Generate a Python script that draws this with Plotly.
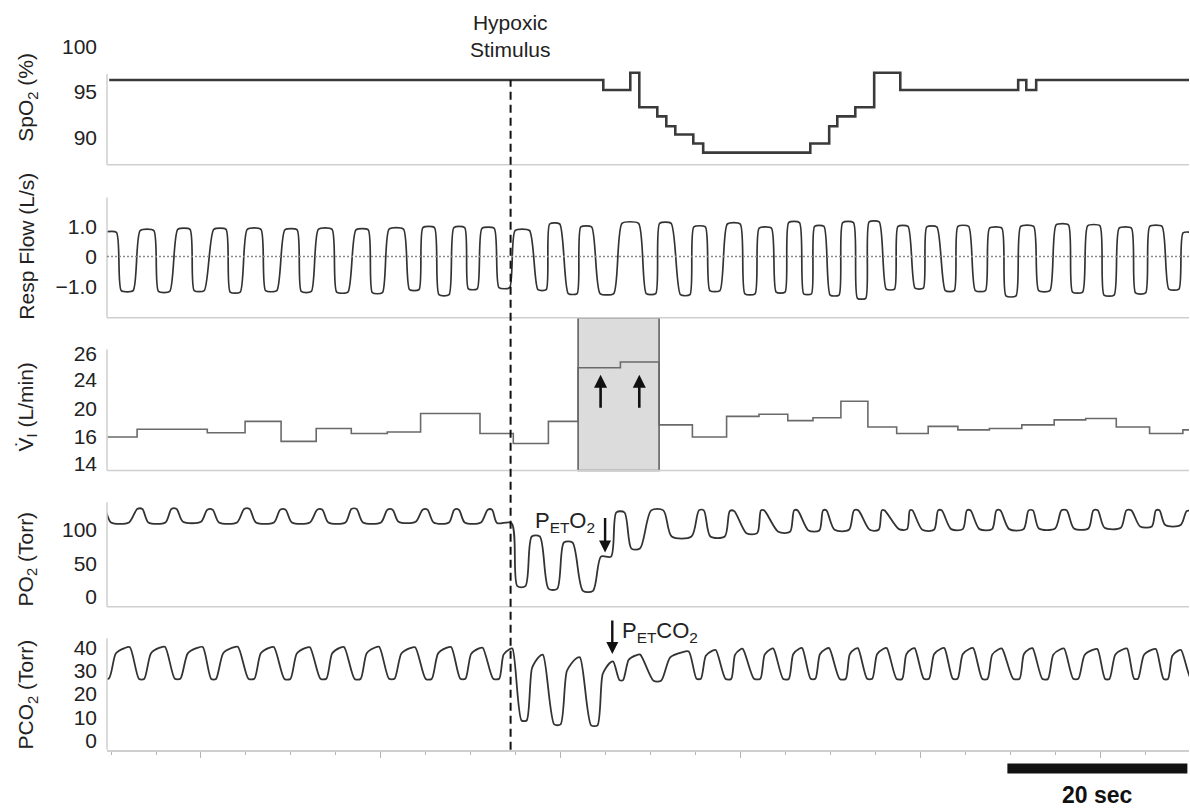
import plotly.graph_objects as go

W, H = 1190, 809
FONT = "Liberation Sans, Arial, Helvetica, sans-serif"
TXT = "#222222"

# ---------------- data (time in seconds) ----------------
# SpO2 (%) step trace: change times and levels
spo2_t = [-0.2, 54.7, 57.7, 58.7, 60.7, 61.7, 62.7, 64.7, 65.8, 77.7, 79.8, 80.7,
          82.7, 84.8, 87.7, 100.8, 101.7, 102.8, 119.8]
spo2_v = [96.3, 95.2, 97.1, 93.3, 92.3, 91.2, 90.3, 89.3, 88.3, 89.3, 91.2, 92.3,
          93.3, 97.1, 95.2, 96.3, 95.2, 96.3, 96.3]

# Respiratory flow (L/s): alternating inspiratory peaks / expiratory troughs
flow_t = [-0.2, 1.8, 4.0, 5.9, 8.1, 9.8, 12.1, 13.8, 15.9, 17.8,
          20.0, 21.7, 23.8, 25.7, 27.9, 29.6, 31.7, 33.7, 35.3, 37.0,
          38.7, 40.2, 41.9, 43.7, 45.7, 47.9, 49.3, 51.3, 52.8, 55.1,
          57.7, 60.0, 61.6, 63.8, 65.4, 67.1, 69.2, 71.0, 72.7, 74.4,
          75.9, 77.4, 78.7, 80.4, 81.9, 83.4, 84.8, 86.6, 88.0, 89.8,
          91.2, 93.2, 94.7, 96.6, 98.3, 100.0, 101.8, 103.7, 105.7, 107.4,
          109.2, 110.9, 112.7, 114.4, 116.1, 118.1, 119.8]
flow_v = [0.82, -1.15, 0.88, -1.18, 0.92, -1.15, 0.92, -1.2, 0.92, -1.15,
          0.9, -1.18, 0.92, -1.2, 0.9, -1.22, 0.93, -1.12, 0.98, -1.29,
          0.98, -1.09, 0.95, -1.05, 0.88, -1.12, 1.1, -1.25, 1.0, -1.25,
          1.12, -1.25, 1.12, -1.29, 1.0, -1.15, 1.1, -1.26, 0.96, -1.2,
          1.15, -1.26, 1.02, -1.3, 1.15, -1.41, 1.17, -1.1, 1.02, -1.07,
          1.0, -1.15, 1.02, -1.15, 0.96, -1.33, 1.02, -1.15, 1.07, -1.2,
          1.04, -1.3, 0.96, -1.23, 1.02, -1.1, 0.8]

# Inspired ventilation (L/min), breath-by-breath steps
vi_t = [-0.4, 2.9, 10.7, 14.9, 18.9, 22.8, 26.7, 30.7, 34.4, 41.0,
        44.7, 48.6, 51.9, 56.6, 60.9, 64.6, 68.4, 72.0, 75.2, 78.0,
        81.1, 84.1, 87.3, 90.8, 94.1, 97.6, 101.2, 104.8, 108.3, 111.7,
        115.4, 119.1, 119.8]
vi_v = [16.0, 17.1, 16.6, 18.2, 15.4, 17.2, 16.5, 16.7, 19.3, 16.5,
        15.1, 18.2, 25.7, 26.5, 17.7, 16.0, 18.9, 19.2, 18.3, 18.7,
        21.0, 17.4, 16.5, 17.5, 17.0, 17.2, 17.7, 18.4, 18.6, 17.4,
        16.5, 17.0, 17.0]
vi_box = [51.9, 60.9]           # highlighted breaths (s)
vi_arrow_t = [54.4, 58.7]
vi_arrow_from, vi_arrow_to = 19.9, 24.7

# PO2 (Torr): extremes, three phases (baseline, hypoxic, recovery)
po2a_t = [-1.0, 1.0, 3.2, 5.1, 7.0, 9.0, 11.0, 13.0, 15.1, 17.1,
          19.1, 21.1, 23.2, 25.1, 27.0, 29.0, 31.0, 32.9, 34.9, 36.7,
          38.4, 40.2, 42.1, 43.7]
po2a_v = [130, 111, 131, 111, 131, 112, 130, 111, 131, 111,
          130, 111, 130, 111, 131, 111, 130, 112, 130, 111,
          130, 111, 130, 110]
po2b_t = [45.6, 47.2, 49.1, 50.8, 53.0, 55.0, 56.6, 58.3, 60.7]
po2b_v = [16, 90, 12, 81, 9, 60, 126, 72, 129]
po2c_t = [63.4, 65.6, 67.4, 69.0, 71.2, 72.4, 74.8, 76.1, 78.1, 79.3,
          81.2, 82.8, 84.8, 85.8, 88.0, 88.9, 90.8, 92.1, 94.0, 95.3,
          97.2, 98.6, 100.6, 102.2, 104.0, 105.9, 107.8, 109.4, 111.3, 113.1,
          115.0, 116.3, 118.0, 119.8]
po2c_v = [90, 129, 90, 128, 95, 129, 97, 129, 99, 129,
          100, 129, 100, 129, 101, 129, 100, 129, 101, 129,
          101, 129, 101, 129, 102, 129, 102, 129, 103, 129,
          105, 129, 107, 128]

# PCO2 (Torr): alternating troughs / end-tidal peaks
pco2_t = [-0.9, 2.1, 3.4, 6.0, 7.4, 10.2, 11.4, 14.1, 15.6, 18.1,
          19.6, 22.1, 23.6, 25.9, 27.4, 29.8, 31.2, 33.8, 35.3, 37.8,
          39.1, 41.3, 42.8, 44.6, 45.9, 48.0, 49.6, 52.1, 53.7, 55.8,
          56.7, 58.8, 60.7, 64.2, 65.3, 67.2, 68.6, 70.2, 71.8, 73.6,
          75.0, 76.8, 78.0, 79.8, 81.3, 83.0, 84.3, 86.2, 87.6, 89.3,
          90.6, 92.6, 93.8, 95.8, 97.1, 99.0, 100.6, 102.4, 103.8, 105.9,
          107.2, 109.6, 110.7, 112.9, 113.9, 116.1, 117.2, 118.9, 120.3]
pco2_v = [26.7, 40.2, 26.5, 40.4, 26.6, 40.3, 26.5, 40.4, 26.6, 40.3,
          26.5, 40.2, 26.6, 40.3, 26.5, 40.4, 26.6, 40.2, 26.5, 40.3,
          26.6, 40.0, 26.6, 39.6, 8.6, 36.9, 6.9, 35.8, 6.5, 34.0,
          26.0, 37.0, 25.7, 38.4, 26.6, 39.0, 26.5, 39.5, 26.6, 39.6,
          26.5, 39.8, 26.6, 39.8, 26.5, 39.8, 26.6, 39.8, 26.5, 39.8,
          26.6, 39.8, 26.6, 39.8, 26.5, 39.6, 26.6, 39.8, 26.5, 39.6,
          26.6, 39.4, 26.5, 39.6, 26.6, 39.4, 26.5, 39.0, 26.6]

stim_t = 44.4          # hypoxic stimulus onset (s)
peto2_t = 54.9         # marked end-tidal O2
petco2_t = 55.7        # marked end-tidal CO2
scale_bar = [99.6, 119.6]   # 20 s

spo2_ticks = [90, 95, 100]
flow_ticks, flow_text = [-1, 0, 1], ["\u22121.0", "0", "1.0"]
vi_tickpos, vi_text = [12.28, 16, 20, 24, 27.6], ["14", "16", "20", "24", "26"]
po2_ticks = [0, 50, 100]
pco2_ticks = [0, 10, 20, 30, 40]


# ---------------- waveform vertex helpers ----------------
def neighbours(ts, vs, i):
    gaps, nb = [], []
    if i > 0:
        gaps.append(ts[i] - ts[i - 1]); nb.append(vs[i - 1])
    if i < len(ts) - 1:
        gaps.append(ts[i + 1] - ts[i]); nb.append(vs[i + 1])
    return min(gaps), nb


def plateau_points(ts, vs, f_peak, f_trough, f_mid=0.35):
    xs, ys = [], []
    for i in range(len(ts)):
        d, nb = neighbours(ts, vs, i)
        if all(vs[i] >= u for u in nb):
            f = f_peak
        elif all(vs[i] <= u for u in nb):
            f = f_trough
        else:
            f = f_mid
        hw = f * d
        xs += [ts[i] - hw, ts[i] + hw]
        ys += [vs[i], vs[i]]
    return xs, ys


def capno_points(ts, vs):
    xs, ys = [], []
    for i in range(len(ts)):
        d, nb = neighbours(ts, vs, i)
        if all(vs[i] <= u for u in nb):
            hw = 0.22 * d
            xs += [ts[i] - hw, ts[i] + hw]
            ys += [vs[i], vs[i]]
            if i < len(ts) - 1:
                te, tp, vp = ts[i] + hw, ts[i + 1], vs[i + 1]
                xs.append(te + 0.33 * (tp - te))
                ys.append(vs[i] + 0.8 * (vp - vs[i]))
                xs.append(tp - 0.25 * (tp - te))
                ys.append(vp - 0.03 * (vp - vs[i]))
        else:
            xs.append(ts[i]); ys.append(vs[i])
    return xs, ys


fx, fy = plateau_points(flow_t, flow_v, 0.40, 0.33)
ax_, ay_ = plateau_points(po2a_t, po2a_v, 0.15, 0.5)
bx_, by_ = plateau_points(po2b_t, po2b_v, 0.28, 0.28)
cx_, cy_ = plateau_points(po2c_t, po2c_v, 0.15, 0.5)
px_, py_ = ax_ + bx_ + cx_, ay_ + by_ + cy_
cx2, cy2 = capno_points(pco2_t, pco2_v)


def ypx(p):
    return 1 - p / H


def dom(top, bot):
    return [1 - bot / H, 1 - top / H]


fig = go.Figure()
line_dark = "#333333"
fig.add_trace(go.Scatter(x=spo2_t, y=spo2_v, mode="lines", yaxis="y",
                         line=dict(color="#3a3a3a", width=2.6, shape="hv")))
fig.add_trace(go.Scatter(x=fx, y=fy, mode="lines", yaxis="y2",
                         line=dict(color=line_dark, width=1.7, shape="spline", smoothing=0.6)))
fig.add_trace(go.Scatter(x=vi_t, y=vi_v, mode="lines", yaxis="y3",
                         line=dict(color="#6a6a6a", width=1.6, shape="hv")))
fig.add_trace(go.Scatter(x=px_, y=py_, mode="lines", yaxis="y4",
                         line=dict(color=line_dark, width=1.8, shape="spline", smoothing=0.8)))
fig.add_trace(go.Scatter(x=cx2, y=cy2, mode="lines", yaxis="y5",
                         line=dict(color=line_dark, width=1.8, shape="spline", smoothing=0.7)))

X0, X1 = 107 / W, 1189 / W
AX = "#cfcfcf"
shapes = []
# panel frames (left + bottom light-grey axis lines)
for top, bot in [(68, 160), (193, 315), (347, 470), (502, 608), (640, 753)]:
    shapes.append(dict(type="line", xref="paper", yref="paper", x0=X0, x1=X0,
                       y0=ypx(bot), y1=ypx(top), line=dict(color=AX, width=1.5)))
for bot in [160, 315, 470, 608]:
    shapes.append(dict(type="line", xref="paper", yref="paper", x0=X0, x1=X1,
                       y0=ypx(bot), y1=ypx(bot), line=dict(color=AX, width=1.5)))
# zero flow dotted line
shapes.append(dict(type="line", xref="paper", yref="y2", x0=X0, x1=X1, y0=0, y1=0,
                   line=dict(color="#8a8a8a", width=1.5, dash="2px,2px")))
# highlighted box on VI
shapes.append(dict(type="rect", xref="x", yref="paper", x0=vi_box[0], x1=vi_box[1],
                   y0=ypx(470), y1=ypx(315), fillcolor="#dcdcdc",
                   line=dict(color="#5a5a5a", width=1.5), layer="below"))
# stimulus dashed line
shapes.append(dict(type="line", xref="x", yref="paper", x0=stim_t, x1=stim_t,
                   y0=ypx(753), y1=ypx(74), line=dict(color="#111111", width=2, dash="8px,5px"),
                   layer="above"))
# scale bar
shapes.append(dict(type="rect", xref="x", yref="paper", x0=scale_bar[0], x1=scale_bar[1],
                   y0=ypx(777), y1=ypx(767), fillcolor="#111111", line=dict(width=0)))

ann = []
titles = [("SpO<sub>2</sub> (%)", 92), ("Resp Flow (L/s)", 243),
          ("V\u0307<sub>I</sub> (L/min)", 406), ("PO<sub>2</sub> (Torr)", 560),
          ("PCO<sub>2</sub> (Torr)", 697)]
for txt, yc in titles:
    ann.append(dict(text=txt, xref="paper", yref="paper", x=27 / W, y=ypx(yc),
                    textangle=-90, showarrow=False, xanchor="center", yanchor="middle",
                    font=dict(size=21, color=TXT, family=FONT)))
ann.append(dict(text="Hypoxic<br>Stimulus", xref="x", yref="paper", x=stim_t, y=ypx(29),
                showarrow=False, xanchor="center", yanchor="middle",
                font=dict(size=21, color=TXT, family=FONT)))
ann.append(dict(text="P<sub>ET</sub>O<sub>2</sub>", xref="x", yref="paper", x=50.4, y=ypx(522),
                showarrow=False, xanchor="center", yanchor="middle",
                font=dict(size=22, color=TXT, family=FONT)))
ann.append(dict(text="", xref="x", yref="paper", x=peto2_t, y=ypx(553), ax=0, ay=-36,
                showarrow=True, arrowhead=2, arrowsize=1, arrowwidth=2.4, arrowcolor="#111111"))
ann.append(dict(text="P<sub>ET</sub>CO<sub>2</sub>", xref="x", yref="paper", x=61.0, y=ypx(634),
                showarrow=False, xanchor="center", yanchor="middle",
                font=dict(size=22, color=TXT, family=FONT)))
ann.append(dict(text="", xref="x", yref="paper", x=petco2_t, y=ypx(656), ax=0, ay=-35,
                showarrow=True, arrowhead=2, arrowsize=1, arrowwidth=2.4, arrowcolor="#111111"))
for t in vi_arrow_t:
    ann.append(dict(text="", xref="x", yref="y3", x=t, y=vi_arrow_to,
                    axref="x", ayref="y3", ax=t, ay=vi_arrow_from,
                    showarrow=True, arrowhead=2, arrowsize=1, arrowwidth=2.6, arrowcolor="#111111"))
ann.append(dict(text="<b>20 sec</b>", xref="x", yref="paper", x=(scale_bar[0] + scale_bar[1]) / 2,
                y=ypx(799), showarrow=False, xanchor="center", yanchor="middle",
                font=dict(size=23, color="#111111", family=FONT)))

yax = dict(showline=False, showgrid=False, zeroline=False, ticks="", anchor="x",
           tickfont=dict(size=21, color=TXT, family=FONT), ticklabelstandoff=9)

fig.update_layout(
    width=W, height=H, autosize=False,
    margin=dict(l=0, r=0, t=0, b=0),
    paper_bgcolor="white", plot_bgcolor="rgba(0,0,0,0)",
    showlegend=False, hovermode=False,
    font=dict(family=FONT, color=TXT),
    xaxis=dict(domain=[X0, X1], range=[-0.444, 119.78], anchor="y5",
               showline=True, linecolor=AX, linewidth=1.5, showgrid=False, zeroline=False,
               ticks="outside", tickcolor="#b5b5b5", ticklen=6, tickwidth=1,
               tick0=10, dtick=20, showticklabels=False,
               minor=dict(tick0=0, dtick=5, ticks="outside", ticklen=3,
                          tickcolor="#b5b5b5", tickwidth=1, showgrid=False)),
    yaxis=dict(yax, domain=dom(35, 160), range=[86.96, 100.54], tickvals=spo2_ticks),
    yaxis2=dict(yax, domain=dom(193, 315), range=[-2.067, 2.0],
                tickvals=flow_ticks, ticktext=flow_text),
    yaxis3=dict(yax, domain=dom(315, 470), range=[11.31, 32.69],
                tickvals=vi_tickpos, ticktext=vi_text),
    yaxis4=dict(yax, domain=dom(502, 608), range=[-14.7, 141.2], tickvals=po2_ticks),
    yaxis5=dict(yax, domain=dom(640, 753), range=[-4.04, 44.04], tickvals=pco2_ticks),
    shapes=shapes, annotations=ann,
)

fig.write_html("out.html", config={"displayModeBar": False},
               post_script="document.body.style.margin='0';document.body.style.overflow='hidden';")
